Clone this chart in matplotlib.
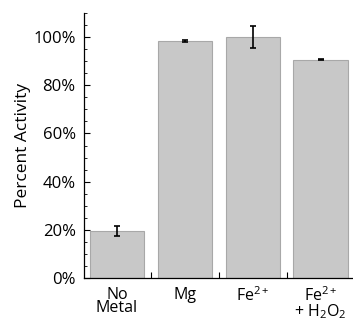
import matplotlib.pyplot as plt
import numpy as np
from matplotlib.ticker import MultipleLocator, FixedLocator, FuncFormatter

plt.rcParams['font.family'] = ['Open Sans', 'DejaVu Sans']
plt.rcParams['mathtext.default'] = 'regular'

labels = ["No\nMetal", "Mg", "Fe$^{2+}$", "Fe$^{2+}$\n+ H$_2$O$_2$"]
activity = [19.5, 98.5, 100.0, 90.7]
errors = [2.2, 0.3, 4.6, 0.3]

fig = plt.figure(figsize=(3.53, 3.22), dpi=100)
ax = fig.add_axes([0.238, 0.1376, 0.766, 0.821])

x = np.arange(len(labels))
ax.bar(x, activity, width=0.8, color='#c8c8c8', edgecolor='#a8a8a8', linewidth=0.8)
ax.errorbar(x, activity, yerr=errors, fmt='none', ecolor='black',
            elinewidth=1.2, capsize=2.5, capthick=1.2)

ax.set_xlim(-0.487, 3.5)
ax.set_ylim(0, 110)
ax.set_xticks(x)
ax.set_xticklabels(labels, fontsize=11.5, linespacing=0.8)
ax.xaxis.set_minor_locator(FixedLocator(x[:-1] + 0.5))
ax.tick_params(axis='x', which='major', length=0, pad=6.5)
ax.tick_params(axis='x', which='minor', direction='in', length=4, width=0.8)

ax.yaxis.set_major_locator(MultipleLocator(20))
ax.yaxis.set_minor_locator(MultipleLocator(5))
ax.yaxis.set_major_formatter(FuncFormatter(lambda v, p: f"{v:.0f}%"))
ax.tick_params(axis='y', which='major', direction='in', length=4, width=0.8,
               labelsize=12, pad=6)
ax.tick_params(axis='y', which='minor', direction='in', length=2.5, width=0.6)

for s in ['top', 'right']:
    ax.spines[s].set_visible(False)
for s in ['left', 'bottom']:
    ax.spines[s].set_linewidth(0.9)

ax.set_ylabel("Percent Activity", fontsize=12.5)
ax.yaxis.set_label_coords(-0.195, 0.5)

fig.savefig("out.png", dpi=100)
